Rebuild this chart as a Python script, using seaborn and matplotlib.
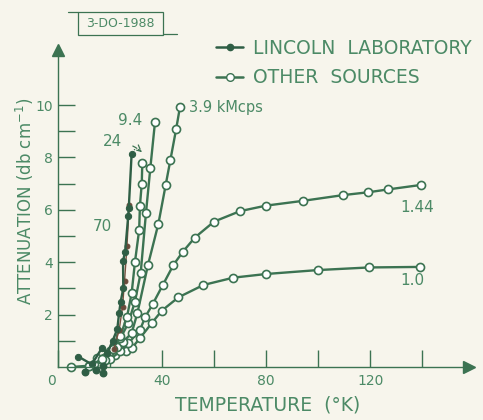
import pandas as pd
import seaborn as sns
import matplotlib.pyplot as plt
from matplotlib.lines import Line2D
from matplotlib.patches import Rectangle
from matplotlib.transforms import ScaledTranslation

# temperature (K) vs attenuation (db/cm)
# other sources, open circles
t_10 = [5, 12, 18, 22, 26, 28.3, 31.5, 36, 39.9, 46.3, 55.9, 67.4, 80, 99.9, 119.6, 139.2]
a_10 = [0.0, 0.05, 0.25, 0.45, 0.6, 0.71, 1.1, 1.67, 2.15, 2.66, 3.13, 3.41, 3.55, 3.7, 3.8, 3.82]

t_144 = [14, 20, 24, 27, 31.5, 33.5, 36.4, 40.3, 44.4, 48, 52.6, 60, 70, 80, 94, 109.5, 119.3, 127, 139.6]
a_144 = [0.1, 0.3, 0.6, 0.9, 1.41, 1.9, 2.4, 3.13, 3.9, 4.4, 4.94, 5.55, 5.95, 6.16, 6.34, 6.56, 6.67, 6.78, 6.95]

t_39 = [18, 22.6, 25.1, 28.3, 30.5, 34.6, 38.6, 41.4, 43.2, 45.4, 46.9]
a_39 = [0.27, 0.78, 0.97, 1.29, 2.05, 3.9, 5.47, 6.95, 7.9, 9.07, 9.93]

t_94 = [15, 20, 24, 27, 29.6, 31.8, 33.8, 35.5, 37.3]
a_94 = [0.33, 0.6, 1.1, 1.67, 2.5, 3.6, 5.86, 7.6, 9.36]

t_24 = [12, 17, 21, 24, 26.5, 28.3, 29.6, 31.2, 31.5, 32.2, 32.4]
a_24 = [0.05, 0.3, 0.7, 1.2, 1.9, 2.81, 4.02, 5.23, 6.16, 7.0, 7.77]

# lincoln laboratory, filled dots (70 kMcps)
t_70 = [7.8, 13, 16.8, 19, 21, 22.8, 23.5, 24.1, 25.1, 25.0, 25.8, 27.0, 27.2, 28.3]
a_70 = [0.4, 0.1, 0.71, 0.55, 1.0, 1.45, 2.07, 2.5, 3.0, 4.05, 4.4, 5.77, 6.06, 8.13]
t_70b = [21.5, 23.5, 24.8, 25.6, 26.5, 27.4]
a_70b = [0.7, 1.4, 2.3, 3.3, 4.6, 6.2]
t_70x = [10.4, 17.4, 17.4, 14.5]
a_70x = [-0.2, -0.24, 0.05, -0.1]

curve_labels = ['1.0', '1.44', '3.9 kMcps', '9.4', '24', '70']
legend_labels = ['LINCOLN  LABORATORY', 'OTHER  SOURCES']

green = '#3c7352'
txt = '#4c8a66'
bg = '#f7f5ec'

sns.set_theme(style='white')
plt.rcParams['font.family'] = ['DejaVu Sans']

fig = plt.figure(figsize=(4.83, 4.2), dpi=100)
fig.patch.set_facecolor(bg)
ax = fig.add_axes([58 / 483, 53 / 420, 411 / 483, 317 / 420])
ax.set_facecolor(bg)

open_kw = dict(color=green, marker='o', markersize=5.8, markerfacecolor='white',
               markeredgecolor=green, markeredgewidth=1.2, linewidth=1.7,
               estimator=None, sort=False, clip_on=False, legend=False)
for t, a in [(t_10, a_10), (t_144, a_144), (t_39, a_39), (t_94, a_94), (t_24, a_24)]:
    sns.lineplot(x=t, y=a, ax=ax, **open_kw)

sns.lineplot(x=t_70b, y=a_70b, ax=ax, color='#7a5040', linewidth=1.0, marker='o',
             markersize=3.5, markerfacecolor='#6a4a3a', markeredgecolor='#6a4a3a',
             estimator=None, sort=False, clip_on=False, legend=False)
sns.lineplot(x=t_70, y=a_70, ax=ax, color='#2f5e45', linewidth=1.7, marker='o',
             markersize=4.5, markerfacecolor='#2f5e45', markeredgecolor='#2f5e45',
             estimator=None, sort=False, clip_on=False, legend=False)
ax.scatter(t_70x, a_70x, s=22, color='#2f5e45', clip_on=False, zorder=3)

ax.set_xlim(0, 158)
ax.set_ylim(0, 12.1)
sns.despine(ax=ax)
for s in ['left', 'bottom']:
    ax.spines[s].set_color(green)
    ax.spines[s].set_linewidth(1.0)
ax.plot(1, 0, '>', transform=ax.transAxes, clip_on=False, ms=9, color=green)
ax.plot(0, 1, '^', transform=ax.transAxes, clip_on=False, ms=9, color=green)

ax.set_xticks([0, 20, 40, 60, 80, 100, 120, 140])
ax.set_xticklabels(['0', '', '40', '', '80', '', '120', ''])
ax.set_yticks(range(1, 11))
ax.set_yticklabels(['' if v % 2 else str(v) for v in range(1, 11)])
ax.tick_params(axis='both', direction='in', length=12.5, width=1, color=green,
               labelcolor=txt, labelsize=10, bottom=True, left=True)
ax.tick_params(axis='y', pad=3.5)
ax.tick_params(axis='x', pad=5)
lab0 = ax.get_xticklabels()[0]
lab0.set_transform(lab0.get_transform() + ScaledTranslation(-0.07, 0, fig.dpi_scale_trans))

# curve labels
ax.text(131.5, 3.32, curve_labels[0], color=txt, fontsize=11, va='center')
ax.text(131.5, 6.1, curve_labels[1], color=txt, fontsize=11, va='center')
ax.text(50.5, 9.92, curve_labels[2], color=txt, fontsize=10.5, va='center')
ax.text(27.7, 9.39, curve_labels[3], color=txt, fontsize=11, va='center', ha='center')
ax.annotate(curve_labels[4], xy=(32.3, 8.2), xytext=(20.8, 8.59), color=txt, fontsize=11,
            va='center', ha='center',
            arrowprops=dict(arrowstyle='->', color=green, linestyle='--', lw=0.9,
                            connectionstyle='arc3,rad=-0.2', shrinkA=6, shrinkB=0))
ax.text(16.9, 5.38, curve_labels[5], color=txt, fontsize=11, va='center', ha='center')

fig.text(268 / 483, 1 - 405 / 420, 'TEMPERATURE  (°K)', color=txt, fontsize=13.5,
         ha='center', va='center')
fig.text(25 / 483, 1 - 201 / 420, 'ATTENUATION (db cm$^{-1}$)', color=txt, fontsize=12,
         ha='center', va='center', rotation=90)

handles = [Line2D([], [], color='#2f5e45', lw=1.8, marker='o', ms=4.5),
           Line2D([], [], color=green, lw=1.8, marker='o', ms=5.5, mfc='white')]
leg = fig.legend(handles, legend_labels, loc='upper left', bbox_to_anchor=(216 / 483, 1 - 39 / 420),
                 frameon=False, fontsize=13.5, handlelength=1.45, handletextpad=0.5,
                 labelspacing=0.55, borderpad=0, borderaxespad=0)
for t in leg.get_texts():
    t.set_color(txt)

# stamp box at the top
fig.patches.append(Rectangle((78 / 483, 1 - 35 / 420), 85 / 483, 23 / 420, transform=fig.transFigure,
                             fill=False, edgecolor=green, lw=0.9))
fig.add_artist(Line2D([68 / 483, 78 / 483], [1 - 12 / 420, 1 - 12 / 420], color=green, lw=0.9))
fig.add_artist(Line2D([163 / 483, 177 / 483], [1 - 34 / 420, 1 - 34 / 420], color=green, lw=0.9))
fig.text(120.5 / 483, 1 - 23.5 / 420, '3-DO-1988', color=txt, fontsize=9, ha='center', va='center')

fig.savefig('out.png', dpi=100, facecolor=bg)
